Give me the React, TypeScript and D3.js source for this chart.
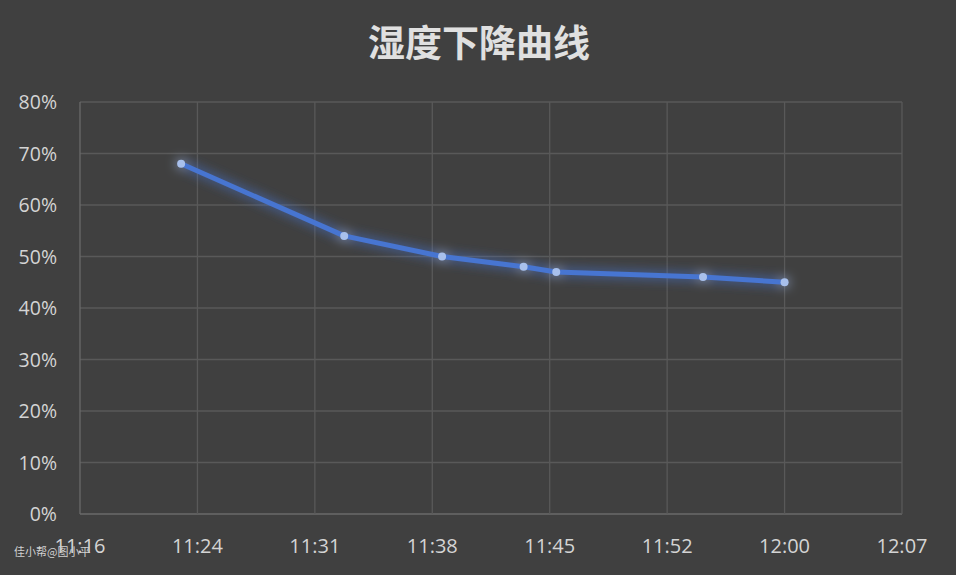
import React from "react";
import * as d3 from "d3";

const title = "湿度下降曲线";
const times = ["11:23", "11:33", "11:39", "11:44", "11:46", "11:55", "12:00"];
const humidity = [0.68, 0.54, 0.5, 0.48, 0.47, 0.46, 0.45];
const xTickValues = [676.8, 684, 691.2, 698.4, 705.6, 712.8, 720, 727.2];
const xTickLabels = ["11:16", "11:24", "11:31", "11:38", "11:45", "11:52", "12:00", "12:07"];
const yTicks = [0, 0.1, 0.2, 0.3, 0.4, 0.5, 0.6, 0.7, 0.8];
const watermark = "佳小帮@图小平";

const W = 956, H = 575;
const M = { left: 80, right: 902, top: 102, bottom: 514 };

function toMin(t: string) {
  const [h, m] = t.split(":").map(Number);
  return h * 60 + m;
}

export default function App() {
  const x = d3.scaleLinear().domain([xTickValues[0], xTickValues[xTickValues.length - 1]]).range([M.left, M.right]);
  const y = d3.scaleLinear().domain([0, 0.8]).range([M.bottom, M.top]);
  const pts = times.map((t, i) => [x(toMin(t)), y(humidity[i])] as [number, number]);
  const line = d3.line()(pts) || "";
  const font = "'Noto Sans CJK SC', 'Noto Sans', sans-serif";
  const numFont = "'Open Sans', 'Noto Sans', sans-serif";
  return (
    <svg width={W} height={H} style={{ position: "absolute", left: 0, top: 0, display: "block" }}>
      <defs>
        <filter id="glow" x="-20%" y="-50%" width="140%" height="200%">
          <feGaussianBlur in="SourceGraphic" stdDeviation="6" result="b" />
          <feMerge>
            <feMergeNode in="b" />
            <feMergeNode in="SourceGraphic" />
          </feMerge>
        </filter>
      </defs>
      <rect width={W} height={H} fill="#404040" />
      <text x={479} y={57} textAnchor="middle" fill="#e0e0e0" fontSize={37} fontWeight="bold" fontFamily={font}>{title}</text>
      {yTicks.map((v) => (
        <g key={v}>
          <line x1={M.left} x2={M.right} y1={y(v)} y2={y(v)} stroke={v === 0 ? "#6a6a6a" : "#595959"} strokeWidth={1.3} />
          <text x={57} y={y(v) + 7} textAnchor="end" fill="#d4d4d4" fontSize={19.5} fontFamily={numFont}>{d3.format(".0%")(v)}</text>
        </g>
      ))}
      {xTickValues.map((v, i) => (
        <g key={v}>
          <line x1={x(v)} x2={x(v)} y1={M.top} y2={M.bottom} stroke={i === 0 ? "#6a6a6a" : "#595959"} strokeWidth={1.3} />
          <text x={x(v)} y={553} textAnchor="middle" fill="#d4d4d4" fontSize={20} fontFamily={numFont}>{xTickLabels[i]}</text>
        </g>
      ))}
      <g filter="url(#glow)">
        <path d={line} fill="none" stroke="#4775d1" strokeWidth={5} strokeLinejoin="round" strokeLinecap="round" />
        {pts.map((p, i) => (
          <circle key={i} cx={p[0]} cy={p[1]} r={4} fill="#a8c0ec" />
        ))}
      </g>
      <text x={14} y={556} fill="#d0d0d0" fontSize={11} fontFamily={font}>{watermark}</text>
    </svg>
  );
}
